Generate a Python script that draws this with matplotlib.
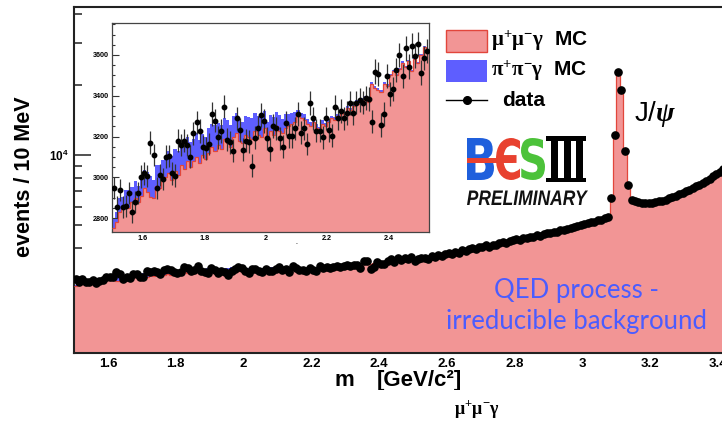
#!/usr/bin/env python3
# mu+mu-gamma invariant mass spectrum with zoomed inset (BESIII preliminary style)
import matplotlib
matplotlib.use('Agg')
import matplotlib.pyplot as plt
import numpy as np
from matplotlib.patches import Rectangle, PathPatch
from matplotlib.lines import Line2D
from matplotlib.textpath import TextPath
from matplotlib.font_manager import FontProperties
from matplotlib.transforms import Affine2D
from matplotlib.ticker import MultipleLocator, FixedLocator, FixedFormatter, NullFormatter, FuncFormatter

plt.rcParams['font.family'] = ['Liberation Sans', 'DejaVu Sans']
plt.rcParams['font.weight'] = 'bold'
plt.rcParams['mathtext.fontset'] = 'custom'
plt.rcParams['mathtext.rm'] = 'Liberation Serif'
plt.rcParams['mathtext.it'] = 'Liberation Serif:italic'
plt.rcParams['mathtext.bf'] = 'Liberation Sans:bold'

# 10 MeV bins starting at 1.50 GeV/c^2
BIN_START = 1.50
BIN_WIDTH = 0.01
INSET_BINS = 103

# events per bin, data
data_counts = [
    2950, 2857, 2939, 2854, 2862, 2922, 2832, 2881, 2922, 3004,   # 1.50
    3020, 3007, 3171, 3110, 2947, 3012, 2993, 3102, 3105, 3020,   # 1.60
    3009, 3180, 3159, 3180, 3159, 3102, 3217, 3270, 3228, 3151,   # 1.70
    3143, 3164, 3310, 3278, 3197, 3228, 3347, 3184, 3172, 3131,   # 1.80
    3290, 3233, 3135, 3180, 3175, 3058, 3195, 3244, 3306, 3277,   # 1.90
    3192, 3138, 3252, 3241, 3192, 3151, 3266, 3203, 3203, 3241,   # 2.00
    3311, 3220, 3241, 3164, 3364, 3290, 3229, 3229, 3197, 3290,   # 2.10
    3233, 3205, 3344, 3290, 3326, 3290, 3315, 3364, 3315, 3367,   # 2.20
    3380, 3367, 3391, 3385, 3274, 3519, 3507, 3257, 3310, 3498,   # 2.30
    3408, 3432, 3527, 3600, 3498, 3633, 3543, 3645, 3597, 3654,   # 2.40
    3514, 3584, 3620, 3640, 3600, 3690, 3660, 3720, 3700, 3760,   # 2.50
    3800, 3760, 3850, 3830, 3910, 3870, 3950, 3990, 3950, 4030,   # 2.60
    4050, 4110, 4060, 4140, 4120, 4190, 4230, 4190, 4280, 4330,   # 2.70
    4390, 4340, 4420, 4400, 4480, 4450, 4530, 4510, 4590, 4620,   # 2.80
    4650, 4710, 4680, 4770, 4760, 4840, 4880, 4900, 4970, 5010,   # 2.90
    5060, 5110, 5150, 5190, 5250, 5300, 5380, 5440, 6550, 12200,  # 3.00
    22600, 19000, 10400, 7450, 6450, 6380, 6300, 6260, 6230, 6250,  # 3.10
    6210, 6280, 6330, 6360, 6450, 6520, 6600, 6700, 6800, 6900,   # 3.20
    7000, 7110, 7230, 7350, 7480, 7620, 7770, 7930, 8100, 8280,   # 3.30
    8470, 8670, 8880, 9100, 9320,                                 # 3.40
]

# mu+mu-gamma MC
mumu_mc = [
    2755, 2780, 2830, 2845, 2860, 2850, 2880, 2900, 2880, 2910,
    2950, 2930, 2905, 2900, 2960, 2950, 2990, 3000, 3020, 2990,
    3030, 3010, 3060, 3040, 3080, 3050, 3080, 3100, 3070, 3110,
    3090, 3120, 3150, 3130, 3160, 3140, 3190, 3170, 3150, 3200,
    3220, 3180, 3170, 3210, 3200, 3190, 3230, 3210, 3200, 3240,
    3190, 3230, 3210, 3250, 3230, 3220, 3240, 3250, 3260, 3270,
    3300, 3290, 3280, 3260, 3250, 3270, 3240, 3230, 3260, 3250,
    3270, 3290, 3280, 3300, 3320, 3310, 3340, 3330, 3350, 3370,
    3360, 3380, 3390, 3370, 3460, 3440, 3430, 3420, 3460, 3450,
    3500, 3520, 3500, 3530, 3560, 3540, 3570, 3520, 3580, 3560,
    3600, 3640, 3610, 3620, 3640, 3650, 3670, 3690, 3710, 3740,
    3760, 3790, 3810, 3840, 3860, 3890, 3920, 3950, 3970, 4000,
    4030, 4060, 4090, 4120, 4150, 4180, 4210, 4240, 4270, 4310,
    4340, 4370, 4410, 4440, 4480, 4510, 4550, 4580, 4620, 4660,
    4700, 4730, 4770, 4810, 4850, 4890, 4930, 4970, 5010, 5060,
    5100, 5140, 5190, 5230, 5280, 5320, 5370, 5420, 6400, 12000,
    22800, 18600, 10200, 7300, 6450, 6350, 6290, 6250, 6230, 6220,
    6230, 6250, 6280, 6320, 6370, 6430, 6500, 6580, 6670, 6760,
    6860, 6970, 7080, 7200, 7330, 7470, 7610, 7760, 7920, 8090,
    8270, 8460, 8660, 8870, 9090,
]

# pi+pi-gamma MC (stacked on top)
pipi_mc = [
    40, 50, 70, 60, 80, 90, 75, 85, 80, 90,
    85, 95, 100, 90, 100, 110, 95, 105, 110, 115,
    110, 120, 100, 115, 120, 125, 110, 120, 115, 105,
    110, 120, 110, 125, 105, 115, 100, 110, 105, 100,
    95, 105, 100, 90, 95, 100, 85, 90, 95, 85,
    80, 75, 85, 70, 75, 65, 70, 60, 55, 50,
    30, 25, 30, 25, 20, 25, 20, 18, 20, 15,
    15, 12, 14, 12, 10, 12, 10, 10, 9, 10,
    9, 8, 9, 8, 8, 9, 8, 8, 7, 8,
    7, 8, 7, 7, 8, 7, 6, 7, 7, 6,
    7, 6, 6, 6, 6, 5, 6, 5, 6, 5,
    5, 5, 6, 5, 5, 4, 5, 5, 4, 5,
    4, 5, 4, 4, 5, 4, 4, 4, 5, 4,
    4, 4, 4, 3, 4, 4, 3, 4, 3, 4,
    3, 3, 4, 3, 3, 3, 3, 3, 3, 3,
    3, 3, 3, 3, 3, 3, 3, 3, 3, 3,
    3, 3, 3, 3, 3, 3, 3, 3, 2, 3,
    3, 2, 3, 3, 2, 3, 2, 3, 2, 2,
    3, 2, 2, 2, 2, 2, 2, 2, 2, 2,
    2, 2, 2, 2, 2,
]

main_minor_y = [2000, 3000, 4000, 5000, 6000, 7000, 8000, 9000, 20000, 30000, 40000]

PINK = '#f29595'
RED = '#e2463b'
BLUE = '#5e5eff'
QED_BLUE = '#4b5cff'

W, H = 722, 421


def fig_box(x0, y0, x1, y1):
    # image pixel box (y downwards) -> figure fraction rect
    return [x0 / W, 1 - y1 / H, (x1 - x0) / W, (y1 - y0) / H]


def draw_hist(ax, n, base, marker_size, errors):
    data = np.array(data_counts[:n], float)
    mumu = np.array(mumu_mc[:n], float)
    total = mumu + np.array(pipi_mc[:n], float)
    edges = BIN_START + BIN_WIDTH * np.arange(n + 1)
    centers = 0.5 * (edges[1:] + edges[:-1])
    ax.stairs(total, edges, fill=True, color=BLUE, baseline=base, zorder=1)
    ax.stairs(mumu, edges, fill=True, color=PINK, baseline=base, zorder=2)
    ax.stairs(mumu, edges, color=RED, lw=0.9, baseline=None, zorder=3)
    if errors:
        ax.errorbar(centers, data, yerr=np.sqrt(data), fmt='o', ms=marker_size,
                    color='black', ecolor='#333333', elinewidth=0.9, capsize=0, zorder=5)
    else:
        ax.plot(centers, data, 'o', ms=marker_size, color='black', zorder=5)


fig = plt.figure(figsize=(W / 100, H / 100), dpi=100)
pix = Affine2D().scale(1 / W, -1 / H).translate(0, 1) + fig.transFigure

# Main plot
ax = fig.add_axes(fig_box(74, 7, 752, 353))
ax.set_yscale('log')
draw_hist(ax, len(data_counts), 100, 5.2, False)
ax.set_xlim(1.5, 3.5)
ax.set_ylim(1425, 42900)
ax.xaxis.set_major_locator(MultipleLocator(0.2))
ax.xaxis.set_minor_locator(MultipleLocator(0.05))
ax.xaxis.set_major_formatter(FuncFormatter(lambda v, p: '%g' % round(v, 2)))
ax.yaxis.set_major_locator(FixedLocator([1e4]))
ax.yaxis.set_major_formatter(FixedFormatter([r'$\mathbf{10^{4}}$']))
ax.yaxis.set_minor_locator(FixedLocator(main_minor_y))
ax.yaxis.set_minor_formatter(NullFormatter())
ax.tick_params(which='both', direction='in', top=False, right=False, width=1.1, color='#222222')
ax.tick_params(axis='x', which='major', length=8.6, labelsize=9.5, pad=3.5)
ax.tick_params(axis='x', which='minor', length=4.3)
ax.tick_params(axis='y', which='major', length=12, labelsize=8.5, pad=3.5)
ax.tick_params(axis='y', which='minor', length=5.8)
for s in ax.spines.values():
    s.set_linewidth(1.5)
    s.set_color('#222222')

# Inset
axi = fig.add_axes(fig_box(112, 22.7, 429, 232))
draw_hist(axi, INSET_BINS, 2000, 3.2, True)
axi.set_xlim(1.5, 2.531)
axi.set_ylim(2733, 3758)
axi.xaxis.set_major_locator(MultipleLocator(0.2))
axi.xaxis.set_minor_locator(MultipleLocator(0.05))
axi.xaxis.set_major_formatter(FuncFormatter(lambda v, p: '%g' % round(v, 2)))
axi.yaxis.set_major_locator(MultipleLocator(200))
axi.yaxis.set_minor_locator(MultipleLocator(50))
axi.tick_params(which='both', direction='in', top=False, right=False, width=0.8,
                labelsize=5.2, pad=2.5, color='#333333')
axi.tick_params(which='major', length=5)
axi.tick_params(which='minor', length=2.5)
for s in axi.spines.values():
    s.set_linewidth(0.9)
    s.set_color('#444444')

# Axis titles
fig.text(25, 177, 'events / 10 MeV', transform=pix, rotation=90, fontsize=15.5,
         ha='center', va='center')
fig.text(335, 386, 'm', transform=pix, fontsize=16, ha='left', va='baseline')
fig.text(377, 386, '[GeV/c²]', transform=pix, fontsize=16, ha='left', va='baseline')
fig.add_artist(Rectangle((300, 390), 220, 10, transform=pix, facecolor='white',
                         edgecolor='none', zorder=10))
fig.text(477, 414, r'$\mathrm{\mu^{+}\mu^{-}\gamma}$', transform=pix, fontsize=13,
         ha='center', va='baseline', fontweight='normal')
fig.text(297, 244, '-', transform=pix, fontsize=4, ha='center', va='center', color='#555555')

# Legend
fig.add_artist(Rectangle((446, 30), 41, 22, transform=pix, facecolor=PINK, edgecolor=RED, lw=1))
fig.add_artist(Rectangle((446, 60), 41, 22, transform=pix, facecolor=BLUE, edgecolor='none'))
fig.add_artist(Line2D([446, 487], [100, 100], transform=pix, color='black', lw=1))
fig.add_artist(Line2D([466.5], [100], transform=pix, color='black', marker='o', ms=5.5))
fig.text(491, 41, r'$\mathrm{\mu^{+}\mu^{-}\gamma}$  MC', transform=pix, fontsize=15, va='center')
fig.text(491, 71, r'$\mathrm{\pi^{+}\pi^{-}\gamma}$  MC', transform=pix, fontsize=15, va='center')
fig.text(502, 100, 'data', transform=pix, fontsize=15, va='center')

# J/psi label
fig.text(634, 114, r'J/$\psi$', transform=pix, fontsize=20, va='center', fontweight='normal')


# BESIII logo
def fit_text(s, x0, y0, x1, y1, color, prop):
    tp = TextPath((0, 0), s, size=100, prop=prop)
    bb = tp.get_extents()
    tr = (Affine2D().translate(-bb.x0, -bb.y0)
          .scale((x1 - x0) / bb.width, -(y1 - y0) / bb.height)
          .translate(x0, y1) + pix)
    fig.add_artist(PathPatch(tp, transform=tr, facecolor=color, edgecolor='none'))


bold = FontProperties(family='DejaVu Sans', weight='bold')
fit_text('B', 467, 138, 494, 180, '#1f5fdc', bold)
fit_text('Є', 496, 138, 520, 180, '#e8412f', bold)
fit_text('S', 521, 138, 545, 180, '#4cc23a', bold)
fig.add_artist(Rectangle((467, 157.5), 46, 5, transform=pix, facecolor='#e8412f', edgecolor='none'))
for bx in (551, 563.5, 576):
    fig.add_artist(Rectangle((bx, 138), 7, 42, transform=pix, facecolor='black', edgecolor='none'))
fig.add_artist(Rectangle((546, 136), 40, 4.5, transform=pix, facecolor='black', edgecolor='none'))
fig.add_artist(Rectangle((546, 177.5), 40, 4.5, transform=pix, facecolor='black', edgecolor='none'))
fit_text('PRELIMINARY', 467, 190.5, 588, 205, '#111111',
         FontProperties(family='Liberation Sans', weight='bold', style='italic'))

# QED annotation
fig.text(576, 298, 'QED process -', transform=pix, fontsize=18.5, family='Lato',
         fontweight='normal', color=QED_BLUE, ha='center', va='baseline')
fig.text(576, 329, 'irreducible background', transform=pix, fontsize=18.5, family='Lato',
         fontweight='normal', color=QED_BLUE, ha='center', va='baseline')

plt.savefig('out.png', dpi=100)
plt.close()
